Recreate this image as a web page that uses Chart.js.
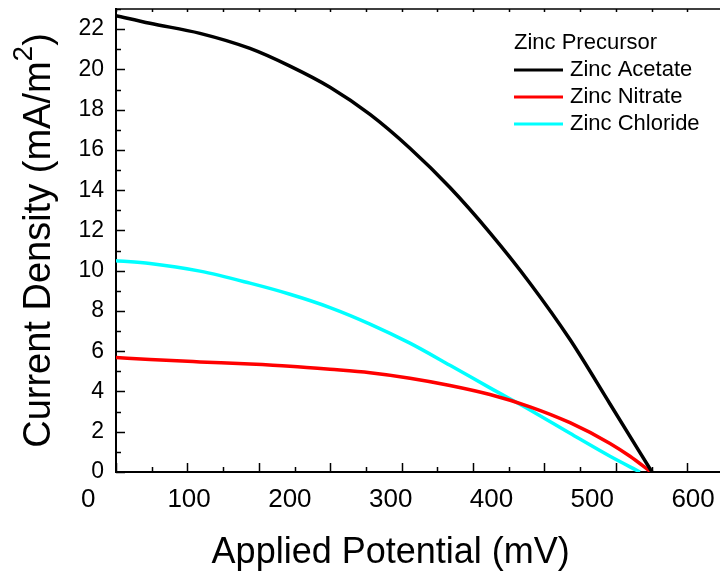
<!DOCTYPE html>
<html>
<head>
<meta charset="utf-8">
<script src="https://cdn.jsdelivr.net/npm/chart.js@4.4.1/dist/chart.umd.min.js"></script>
<style>
  body { margin: 0; background: #fff; }
  #chart { display: block; }
</style>
</head>
<body>
<canvas id="chart" width="720" height="574"></canvas>
<script>
// Series names and legend title
const seriesNames = ['Zinc Acetate', 'Zinc Nitrate', 'Zinc Chloride'];
const legendTitle = 'Zinc Precursor';

// Applied potential (mV) and current density (mA/m2)
const acetateV = [27.5, 61.2, 110.8, 160.4, 200.1, 239.8, 279.5, 319.1, 358.8, 398.5, 438.2, 477.9, 517.6, 559.2];
const acetateJ = [22.67, 22.29, 21.79, 21.04, 20.16, 19.11, 17.76, 16.08, 14.13, 11.88, 9.38, 6.58, 3.38, 0];

const nitrateV = [27.5, 61.2, 110.8, 160.4, 200.1, 239.8, 279.5, 319.1, 358.8, 398.5, 438.2, 477.9, 517.6, 537.4, 558.2];
const nitrateJ = [5.69, 5.59, 5.47, 5.36, 5.25, 5.10, 4.93, 4.66, 4.30, 3.85, 3.24, 2.45, 1.42, 0.78, 0];

const chlorideV = [27.5, 61.2, 110.8, 160.4, 200.1, 239.8, 279.5, 319.1, 358.8, 398.5, 438.2, 477.9, 517.6, 547.3];
const chlorideJ = [10.49, 10.36, 9.98, 9.38, 8.83, 8.17, 7.35, 6.40, 5.30, 4.18, 3.08, 1.92, 0.78, 0];

// Axis tick labels
const xTickLabels = [0, 100, 200, 300, 400, 500, 600];
const yTickLabels = [0, 2, 4, 6, 8, 10, 12, 14, 16, 18, 20, 22];

const seriesColors = ['#000000', '#ff0000', '#00ffff'];
const FONT = '"Liberation Sans", Arial, sans-serif';

// tick marks on the frame do not sit on the labels in the original figure
const X_MARK_START = 27.5;
const X_MARK_STEP = 35.42;

function toPoints(xs, ys) {
    return xs.map((x, i) => ({ x: x, y: ys[i] }));
}

const frameAndTicks = {
    id: 'frameAndTicks',
    afterDraw(chart) {
        const ctx = chart.ctx;
        const area = chart.chartArea;
        const xs = chart.scales.x;
        const ys = chart.scales.y;
        ctx.save();
        ctx.strokeStyle = '#000';
        ctx.lineWidth = 1.5;
        ctx.beginPath();
        // top border
        ctx.moveTo(area.left, area.top);
        ctx.lineTo(area.right, area.top);
        // y ticks (major every 2, minor between)
        for (let v = 0; v <= ys.max; v++) {
            const py = Math.round(ys.getPixelForValue(v)) + 0.5;
            const len = v % 2 === 0 ? 9 : 5;
            ctx.moveTo(area.left, py);
            ctx.lineTo(area.left + len, py);
        }
        // x ticks bottom and top
        for (let k = 0; X_MARK_START + k * X_MARK_STEP <= xs.max; k++) {
            const px = Math.round(xs.getPixelForValue(X_MARK_START + k * X_MARK_STEP)) + 0.5;
            const len = k % 2 === 0 ? 9 : 5;
            ctx.moveTo(px, area.bottom);
            ctx.lineTo(px, area.bottom - len);
            ctx.moveTo(px, area.top);
            ctx.lineTo(px, area.top + 3);
        }
        ctx.stroke();

        // axis titles
        ctx.fillStyle = '#000';
        ctx.textBaseline = 'alphabetic';
        ctx.font = '36px ' + FONT;
        ctx.textAlign = 'center';
        const midX = xs.getPixelForValue((xTickLabels[0] + xTickLabels[xTickLabels.length - 1]) / 2);
        ctx.fillText('Applied Potential (mV)', midX, 563);

        ctx.translate(50, (area.top + area.bottom) / 2);
        ctx.rotate(-Math.PI / 2);
        ctx.textAlign = 'left';
        const mainFont = '38px ' + FONT;
        const supFont = '28px ' + FONT;
        const partA = 'Current Density (mA/m';
        const partB = '2';
        const partC = ')';
        ctx.font = mainFont;
        const wA = ctx.measureText(partA).width;
        const wC = ctx.measureText(partC).width;
        ctx.font = supFont;
        const wB = ctx.measureText(partB).width;
        let tx = -(wA + wB + wC) / 2;
        ctx.font = mainFont;
        ctx.fillText(partA, tx, 0);
        tx += wA;
        ctx.font = supFont;
        ctx.fillText(partB, tx, -18);
        tx += wB;
        ctx.font = mainFont;
        ctx.fillText(partC, tx, 0);
        ctx.restore();
    }
};

const plotLegend = {
    id: 'plotLegend',
    afterDraw(chart) {
        const ctx = chart.ctx;
        const area = chart.chartArea;
        const x0 = area.right - 206;
        const y0 = area.top + 34;
        ctx.save();
        ctx.font = '22px ' + FONT;
        ctx.fillStyle = '#000';
        ctx.textBaseline = 'middle';
        ctx.textAlign = 'left';
        ctx.fillText(legendTitle, x0, y0);
        chart.data.datasets.forEach((ds, i) => {
            const y = y0 + 27 * (i + 1);
            ctx.strokeStyle = ds.borderColor;
            ctx.lineWidth = 3;
            ctx.beginPath();
            ctx.moveTo(x0, y);
            ctx.lineTo(x0 + 49, y);
            ctx.stroke();
            ctx.fillText(ds.label, x0 + 56, y);
        });
        ctx.restore();
    }
};

const ctx = document.getElementById('chart').getContext('2d');
new Chart(ctx, {
    type: 'line',
    data: {
        datasets: [
            { label: seriesNames[0], data: toPoints(acetateV, acetateJ), borderColor: seriesColors[0] },
            { label: seriesNames[1], data: toPoints(nitrateV, nitrateJ), borderColor: seriesColors[1] },
            { label: seriesNames[2], data: toPoints(chlorideV, chlorideJ), borderColor: seriesColors[2] }
        ]
    },
    options: {
        responsive: false,
        animation: false,
        devicePixelRatio: 1,
        layout: { padding: { top: 9, right: 0, bottom: 0, left: 0 } },
        elements: {
            line: { borderWidth: 3.5, cubicInterpolationMode: 'monotone', fill: false },
            point: { radius: 0 }
        },
        plugins: {
            legend: { display: false },
            tooltip: { enabled: false }
        },
        scales: {
            x: {
                type: 'linear',
                position: 'bottom',
                min: 27.5,
                max: 626.7,
                grid: { display: false, drawTicks: false },
                border: { display: true, color: '#000', width: 2 },
                ticks: {
                    autoSkip: false,
                    maxRotation: 0,
                    padding: 12,
                    color: '#000',
                    font: { family: FONT, size: 26 }
                },
                afterBuildTicks: (scale) => {
                    scale.ticks = xTickLabels.map(v => ({ value: v }));
                },
                afterFit: (scale) => {
                    scale.height = 102;
                    scale.paddingLeft = 0;
                    scale.paddingRight = 0;
                }
            },
            y: {
                type: 'linear',
                min: 0,
                max: 23,
                grid: { display: false, drawTicks: false },
                border: { display: true, color: '#000', width: 2 },
                ticks: {
                    padding: 12,
                    color: '#000',
                    font: { family: FONT, size: 23 }
                },
                afterBuildTicks: (scale) => {
                    scale.ticks = yTickLabels.map(v => ({ value: v }));
                },
                afterFit: (scale) => {
                    scale.width = 116;
                    scale.paddingTop = 0;
                    scale.paddingBottom = 0;
                }
            }
        }
    },
    plugins: [frameAndTicks, plotLegend]
});
</script>
</body>
</html>
